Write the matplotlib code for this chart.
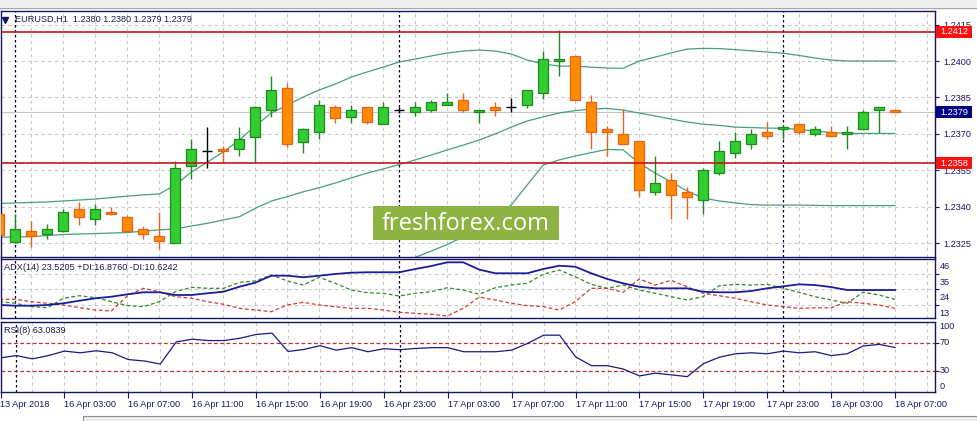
import matplotlib
matplotlib.use('Agg')
import matplotlib.pyplot as plt
from matplotlib.patches import Rectangle
from matplotlib.lines import Line2D
import numpy as np

plt.rcParams['font.family'] = ['Liberation Sans', 'DejaVu Sans']

# ---------------- data (EURUSD H1) ----------------
symbol_title = "EURUSD,H1  1.2380 1.2380 1.2379 1.2379"
adx_title = "ADX(14) 23.5205 +DI:16.8760 -DI:10.6242"
rsi_title = "RSI(8) 63.0839"

opens = [1.23370, 1.23256, 1.23299, 1.23287, 1.23299, 1.23390, 1.23349, 1.23377, 1.23357, 1.23307,
         1.23279, 1.23250, 1.23567, 1.23628, 1.23637, 1.23637, 1.23689, 1.23798, 1.23888, 1.23668,
         1.23707, 1.23809, 1.23768, 1.23809, 1.23740, 1.23798, 1.23789, 1.23797, 1.23818, 1.23840,
         1.23789, 1.23809, 1.23809, 1.23818, 1.23867, 1.23999, 1.24019, 1.23830, 1.23719, 1.23698,
         1.23670, 1.23460, 1.23509, 1.23460, 1.23427, 1.23538, 1.23620, 1.23657, 1.23707, 1.23719,
         1.23740, 1.23698, 1.23707, 1.23698, 1.23719, 1.23797, 1.23800]
highs = [1.23375, 1.23369, 1.23342, 1.23329, 1.23390, 1.23420, 1.23412, 1.23398, 1.23365, 1.23320,
         1.23377, 1.23587, 1.23680, 1.23730, 1.23650, 1.23730, 1.23815, 1.23938, 1.23908, 1.23725,
         1.23840, 1.23819, 1.23818, 1.23809, 1.23831, 1.23809, 1.23831, 1.23840, 1.23868, 1.23868,
         1.23797, 1.23831, 1.23847, 1.23880, 1.24041, 1.24126, 1.24019, 1.23859, 1.23731, 1.23801,
         1.23670, 1.23608, 1.23538, 1.23480, 1.23558, 1.23670, 1.23707, 1.23719, 1.23748, 1.23735,
         1.23740, 1.23731, 1.23731, 1.23731, 1.23797, 1.23809, 1.23800]
lows = [1.23270, 1.23250, 1.23236, 1.23269, 1.23296, 1.23327, 1.23327, 1.23366, 1.23299, 1.23269,
        1.23228, 1.23250, 1.23516, 1.23558, 1.23581, 1.23608, 1.23579, 1.23769, 1.23647, 1.23620,
        1.23678, 1.23746, 1.23746, 1.23740, 1.23740, 1.23785, 1.23775, 1.23789, 1.23818, 1.23789,
        1.23746, 1.23775, 1.23789, 1.23805, 1.23845, 1.23937, 1.23838, 1.23637, 1.23608, 1.23657,
        1.23439, 1.23447, 1.23349, 1.23349, 1.23369, 1.23530, 1.23600, 1.23637, 1.23678, 1.23678,
        1.23698, 1.23690, 1.23690, 1.23637, 1.23719, 1.23703, 1.23790]
closes = [1.23284, 1.23307, 1.23279, 1.23307, 1.23377, 1.23357, 1.23390, 1.23369, 1.23299, 1.23287,
          1.23258, 1.23558, 1.23637, 1.23628, 1.23628, 1.23679, 1.23810, 1.23880, 1.23657, 1.23719,
          1.23818, 1.23764, 1.23797, 1.23748, 1.23809, 1.23798, 1.23809, 1.23830, 1.23830, 1.23797,
          1.23797, 1.23797, 1.23809, 1.23880, 1.24007, 1.24007, 1.23838, 1.23707, 1.23707, 1.23657,
          1.23468, 1.23497, 1.23447, 1.23439, 1.23550, 1.23628, 1.23670, 1.23698, 1.23690, 1.23728,
          1.23707, 1.23719, 1.23690, 1.23707, 1.23789, 1.23809, 1.23790]

bb_upper = [1.23414, 1.23416, 1.23418, 1.23420, 1.23424, 1.23428, 1.23432, 1.23438, 1.23444, 1.23449,
            1.23453, 1.23490, 1.23543, 1.23584, 1.23626, 1.23675, 1.23733, 1.23786, 1.23819, 1.23852,
            1.23881, 1.23905, 1.23934, 1.23955, 1.23975, 1.23996, 1.24008, 1.24021, 1.24033, 1.24041,
            1.24045, 1.24041, 1.24029, 1.24004, 1.23988, 1.23979, 1.23979, 1.23975, 1.23971, 1.23970,
            1.24000, 1.24016, 1.24033, 1.24049, 1.24052, 1.24051, 1.24047, 1.24042, 1.24037, 1.24032,
            1.24023, 1.24012, 1.24004, 1.24000, 1.24000, 1.24000, 1.24000]
bb_mid = [1.23275, 1.23276, 1.23277, 1.23282, 1.23286, 1.23288, 1.23290, 1.23292, 1.23294, 1.23300,
          1.23305, 1.23309, 1.23321, 1.23332, 1.23346, 1.23359, 1.23394, 1.23424, 1.23442, 1.23462,
          1.23479, 1.23498, 1.23519, 1.23539, 1.23556, 1.23574, 1.23593, 1.23613, 1.23634, 1.23654,
          1.23675, 1.23700, 1.23728, 1.23753, 1.23770, 1.23786, 1.23796, 1.23802, 1.23805, 1.23798,
          1.23786, 1.23774, 1.23761, 1.23749, 1.23740, 1.23735, 1.23728, 1.23726, 1.23724, 1.23723,
          1.23718, 1.23712, 1.23706, 1.23702, 1.23702, 1.23702, 1.23702]
bb_lower = [1.23136, 1.23136, 1.23136, 1.23144, 1.23148, 1.23148, 1.23148, 1.23146, 1.23144, 1.23152,
            1.23156, 1.23128, 1.23099, 1.23080, 1.23066, 1.23044, 1.23055, 1.23062, 1.23064, 1.23072,
            1.23077, 1.23091, 1.23103, 1.23124, 1.23136, 1.23152, 1.23192, 1.23218, 1.23245, 1.23276,
            1.23321, 1.23366, 1.23407, 1.23490, 1.23572, 1.23593, 1.23609, 1.23623, 1.23636, 1.23634,
            1.23580, 1.23539, 1.23502, 1.23465, 1.23436, 1.23424, 1.23416, 1.23409, 1.23407, 1.23407,
            1.23407, 1.23406, 1.23405, 1.23405, 1.23405, 1.23405, 1.23405]

level_lines = [1.2412, 1.2358]
bid_price = 1.2379

adx = [12.96, 12.46, 12.46, 12.96, 14.15, 15.98, 17.68, 18.8, 20.5, 21.9,
       21.9, 20.0, 20.0, 21.2, 22.3, 25.8, 28.7, 33.6, 33.6, 32.5,
       33.6, 34.8, 35.7, 36.0, 36.0, 36.0, 38.3, 40.4, 43.0, 43.0,
       37.9, 35.3, 35.3, 35.3, 38.3, 40.6, 39.9, 35.3, 31.3, 28.2,
       25.8, 24.7, 24.7, 24.7, 22.3, 21.9, 21.9, 22.8, 24.7, 26.1,
       27.5, 27.0, 25.6, 23.5, 23.5, 23.5, 23.52]
plus_di = [15.3, 14.15, 11.8, 11.05, 17.7, 19.5, 18.1, 15.3, 12.5, 11.8,
           15.3, 22.3, 25.4, 24.7, 24.7, 28.9, 29.9, 34.1, 29.9, 27.0,
           32.5, 28.2, 23.5, 21.6, 21.2, 19.3, 21.2, 22.3, 25.1, 23.5,
           20.5, 25.1, 27.0, 28.2, 34.6, 37.6, 32.9, 27.5, 24.7, 27.0,
           23.5, 21.2, 18.8, 16.5, 18.8, 26.5, 27.5, 27.0, 27.5, 24.7,
           21.9, 18.8, 16.5, 14.15, 21.9, 20.0, 16.88]
minus_di = [16.97, 16.97, 15.28, 14.15, 12.96, 11.05, 9.44, 8.73, 19.5, 24.7,
            22.3, 18.8, 17.7, 15.3, 13.5, 10.6, 9.44, 8.24, 12.96, 14.86,
            12.96, 11.76, 10.6, 10.6, 9.44, 7.8, 7.1, 6.4, 5.2, 10.6,
            18.5, 16.5, 14.15, 12.5, 11.8, 9.44, 15.3, 24.7, 24.7, 21.9,
            31.3, 27.0, 30.3, 25.8, 21.2, 19.5, 17.7, 15.3, 12.96, 11.8,
            10.6, 11.0, 11.0, 15.3, 14.15, 12.96, 10.62]
rsi = [48.4, 51.7, 47.0, 51.7, 58.0, 55.6, 58.5, 55.6, 46.0, 44.0,
       39.7, 71.0, 74.9, 73.0, 73.0, 76.3, 81.6, 83.5, 57.5, 60.4,
       65.7, 59.4, 62.9, 57.1, 61.4, 60.0, 61.8, 62.9, 62.9, 57.1,
       57.1, 57.1, 59.4, 69.0, 80.6, 80.6, 49.8, 37.3, 37.3, 32.5,
       22.8, 26.7, 24.3, 21.8, 40.2, 49.3, 54.2, 55.6, 54.2, 58.0,
       55.6, 57.1, 51.7, 54.2, 65.2, 67.6, 63.08]

price_ticks = [1.2325, 1.2340, 1.2355, 1.2370, 1.2385, 1.2400, 1.2415]
adx_ticks = [46, 35, 24, 13]
rsi_levels = [70, 30]
rsi_ticks = [100, 70, 30, 0]
time_labels = ["13 Apr 2018", "16 Apr 03:00", "16 Apr 07:00", "16 Apr 11:00", "16 Apr 15:00",
               "16 Apr 19:00", "16 Apr 23:00", "17 Apr 03:00", "17 Apr 07:00", "17 Apr 11:00",
               "17 Apr 15:00", "17 Apr 19:00", "17 Apr 23:00", "18 Apr 03:00", "18 Apr 07:00"]
label_every = 4
day_starts = [1, 25, 49]

# ---------------- figure layout ----------------
W, H = 977, 421
fig = plt.figure(figsize=(W / 100, H / 100), dpi=100)
fig.patch.set_facecolor('white')


def px_rect(x0, y0, x1, y1):
    return [x0 / W, 1 - y1 / H, (x1 - x0) / W, (y1 - y0) / H]


navy = '#16165e'
grid_c = '#c9c9c9'
FS = 6.6

ax = fig.add_axes(px_rect(0.5, 11, 935, 256.5))
ax_adx = fig.add_axes(px_rect(0.5, 258.5, 935, 318))
ax_rsi = fig.add_axes(px_rect(0.5, 321.5, 935, 392))

n = len(opens)
idx = np.arange(n)

for a in (ax, ax_adx, ax_rsi):
    a.set_xlim(0.0625, 58.5)
    a.set_facecolor('white')
    for s in a.spines.values():
        s.set_color(navy)
        s.set_linewidth(1.0)
    a.tick_params(axis='x', bottom=False, labelbottom=False)
    a.yaxis.tick_right()
    for g in range(0, 59, 2):
        a.axvline(g, color=grid_c, lw=0.8, dashes=(3, 3), zorder=0.5)
    for d in day_starts:
        a.axvline(d, color='#000030', lw=0.9, dashes=(2, 2), zorder=0.6)

# ---------------- main price panel ----------------
ax.set_ylim(1.231955, 1.242058)
ax.set_yticks(price_ticks)
ax.set_yticklabels([f'{v:.4f}' for v in price_ticks])
ax.tick_params(axis='y', length=3, width=0.8, color=navy, labelcolor=navy, labelsize=FS, pad=3)
for v in price_ticks:
    ax.axhline(v, color=grid_c, lw=0.8, dashes=(3, 3), zorder=0.5)

ax.axhline(bid_price, color='#c4c4c4', lw=0.8, zorder=1.5)

band_c = '#44a07c'
ax.plot(idx, bb_upper, color=band_c, lw=0.9, zorder=2)
ax.plot(idx, bb_mid, color=band_c, lw=0.9, zorder=2)
ax.plot(idx, bb_lower, color=band_c, lw=0.9, zorder=2)

bw = 0.625
for k in idx:
    o, h, l, c = opens[k], highs[k], lows[k], closes[k]
    if abs(c - o) < 1e-7:
        ax.vlines(k, l, h, color='black', lw=1.0, zorder=3)
        ax.hlines(o, k - bw / 2, k + bw / 2, color='black', lw=1.0, zorder=3)
        continue
    if c > o:
        fc, ec = '#33cc33', '#1e8a1e'
    else:
        fc, ec = '#ff8c00', '#e8621a'
    ax.vlines(k, l, h, color=ec, lw=1.0, zorder=2.5)
    ax.bar(k, abs(c - o), bottom=min(o, c), width=bw, color=fc, edgecolor=ec,
           linewidth=0.9, zorder=3)

for lv in level_lines:
    ax.axhline(lv, color='#c01818', lw=1.2, zorder=4)

ytr = ax.get_yaxis_transform()
box_h = 11.4 / 24300.0
for val, fc in [(level_lines[0], '#ff1010'), (level_lines[1], '#ff1010'), (bid_price, '#000080')]:
    ax.add_patch(Rectangle((1.0 + 1.5 / 935, val - box_h / 2), 35.5 / 935, box_h,
                           transform=ytr, facecolor=fc, edgecolor='none', clip_on=False, zorder=10))
    ax.text(1.0 + 5.0 / 935, val, f'{val:.4f}', transform=ytr, va='center', ha='left',
            color='white', fontsize=FS, clip_on=False, zorder=11)

# ---------------- ADX panel ----------------
ax_adx.set_ylim(3.8, 45.7)
ax_adx.set_yticks(adx_ticks[1:])
ax_adx.set_yticklabels([])
ax_adx.tick_params(axis='y', length=3, width=0.8, color=navy)
for v in adx_ticks[1:]:
    ax_adx.axhline(v, color=grid_c, lw=0.8, dashes=(3, 3), zorder=0.5)
for v in adx_ticks:
    ax_adx.annotate(str(v), xy=(1, v), xycoords=('axes fraction', 'data'),
                    xytext=(3.2, -6.0), textcoords='offset points', va='center', ha='left',
                    fontsize=FS, color=navy, annotation_clip=False)
ax_adx.plot(idx, plus_di, color='#2b8a2b', lw=0.9, dashes=(3, 2), zorder=2)
ax_adx.plot(idx, minus_di, color='#d03a30', lw=0.9, dashes=(3, 2), zorder=2)
ax_adx.plot(idx, adx, color='#1c1c9a', lw=1.3, zorder=3)

# ---------------- RSI panel ----------------
ax_rsi.set_ylim(0, 100)
ax_rsi.set_yticks(rsi_levels)
ax_rsi.set_yticklabels([])
ax_rsi.tick_params(axis='y', length=3, width=0.8, color=navy)
for lv in rsi_levels:
    ax_rsi.axhline(lv, color='#b83030', lw=0.9, dashes=(3, 2), zorder=1)
rsi_offsets = {100: -3.4, 70: 0, 30: 0, 0: 4.0}
for v in rsi_ticks:
    ax_rsi.annotate(str(v), xy=(1, v), xycoords=('axes fraction', 'data'),
                    xytext=(3.2, rsi_offsets[v]), textcoords='offset points', va='center',
                    ha='left', fontsize=FS, color=navy, annotation_clip=False)
ax_rsi.plot(idx, rsi, color='#1a1a80', lw=0.9, zorder=3)

label_pos = list(range(0, n, label_every))
ax_rsi.set_xticks(label_pos)
ax_rsi.set_xticklabels(time_labels, ha='left')
ax_rsi.tick_params(axis='x', bottom=True, labelbottom=True, length=4, width=0.8,
                   color=navy, labelcolor=navy, labelsize=FS, pad=2)

# ---------------- headers ----------------
def ftext(x, y, s, **kw):
    fig.text(x / W, 1 - y / H, s, **kw)

fig.add_artist(Line2D([5 / W], [1 - 19.5 / H], marker='v', markersize=4, color=navy,
                      transform=fig.transFigure))
ftext(15, 19.5, symbol_title, fontsize=FS, color='#1a1a4a', va='center', ha='left')
ftext(4, 267.5, adx_title, fontsize=FS, color='#1a1a4a', va='center', ha='left')
ftext(4, 330.5, rsi_title, fontsize=FS, color='#1a1a4a', va='center', ha='left')

# window chrome
fig.add_artist(Rectangle((0, 1 - 7 / H), 1, 7 / H, transform=fig.transFigure,
                         facecolor='#efefef', edgecolor='none', zorder=1))
fig.add_artist(Line2D([0, 1], [1 - 7.5 / H, 1 - 7.5 / H], color='#a8a8a8', lw=1.0,
                      transform=fig.transFigure, zorder=1))
fig.add_artist(Rectangle((83 / W, 0), 1 - 83 / W, 5.5 / H, transform=fig.transFigure,
                         facecolor='#ececec', edgecolor='#909090', lw=0.8, zorder=1))

# watermark
fig.add_artist(Rectangle((373 / W, 1 - 240 / H), 186 / W, 34 / H, transform=fig.transFigure,
                         facecolor='#8db443', edgecolor='none', zorder=5))
fig.text(466 / W, 1 - 223.5 / H, 'freshforex.com', fontsize=17, color='white',
         family=['Open Sans', 'DejaVu Sans'], ha='center', va='center', zorder=6)

fig.savefig('out.png', dpi=100, facecolor='white')
